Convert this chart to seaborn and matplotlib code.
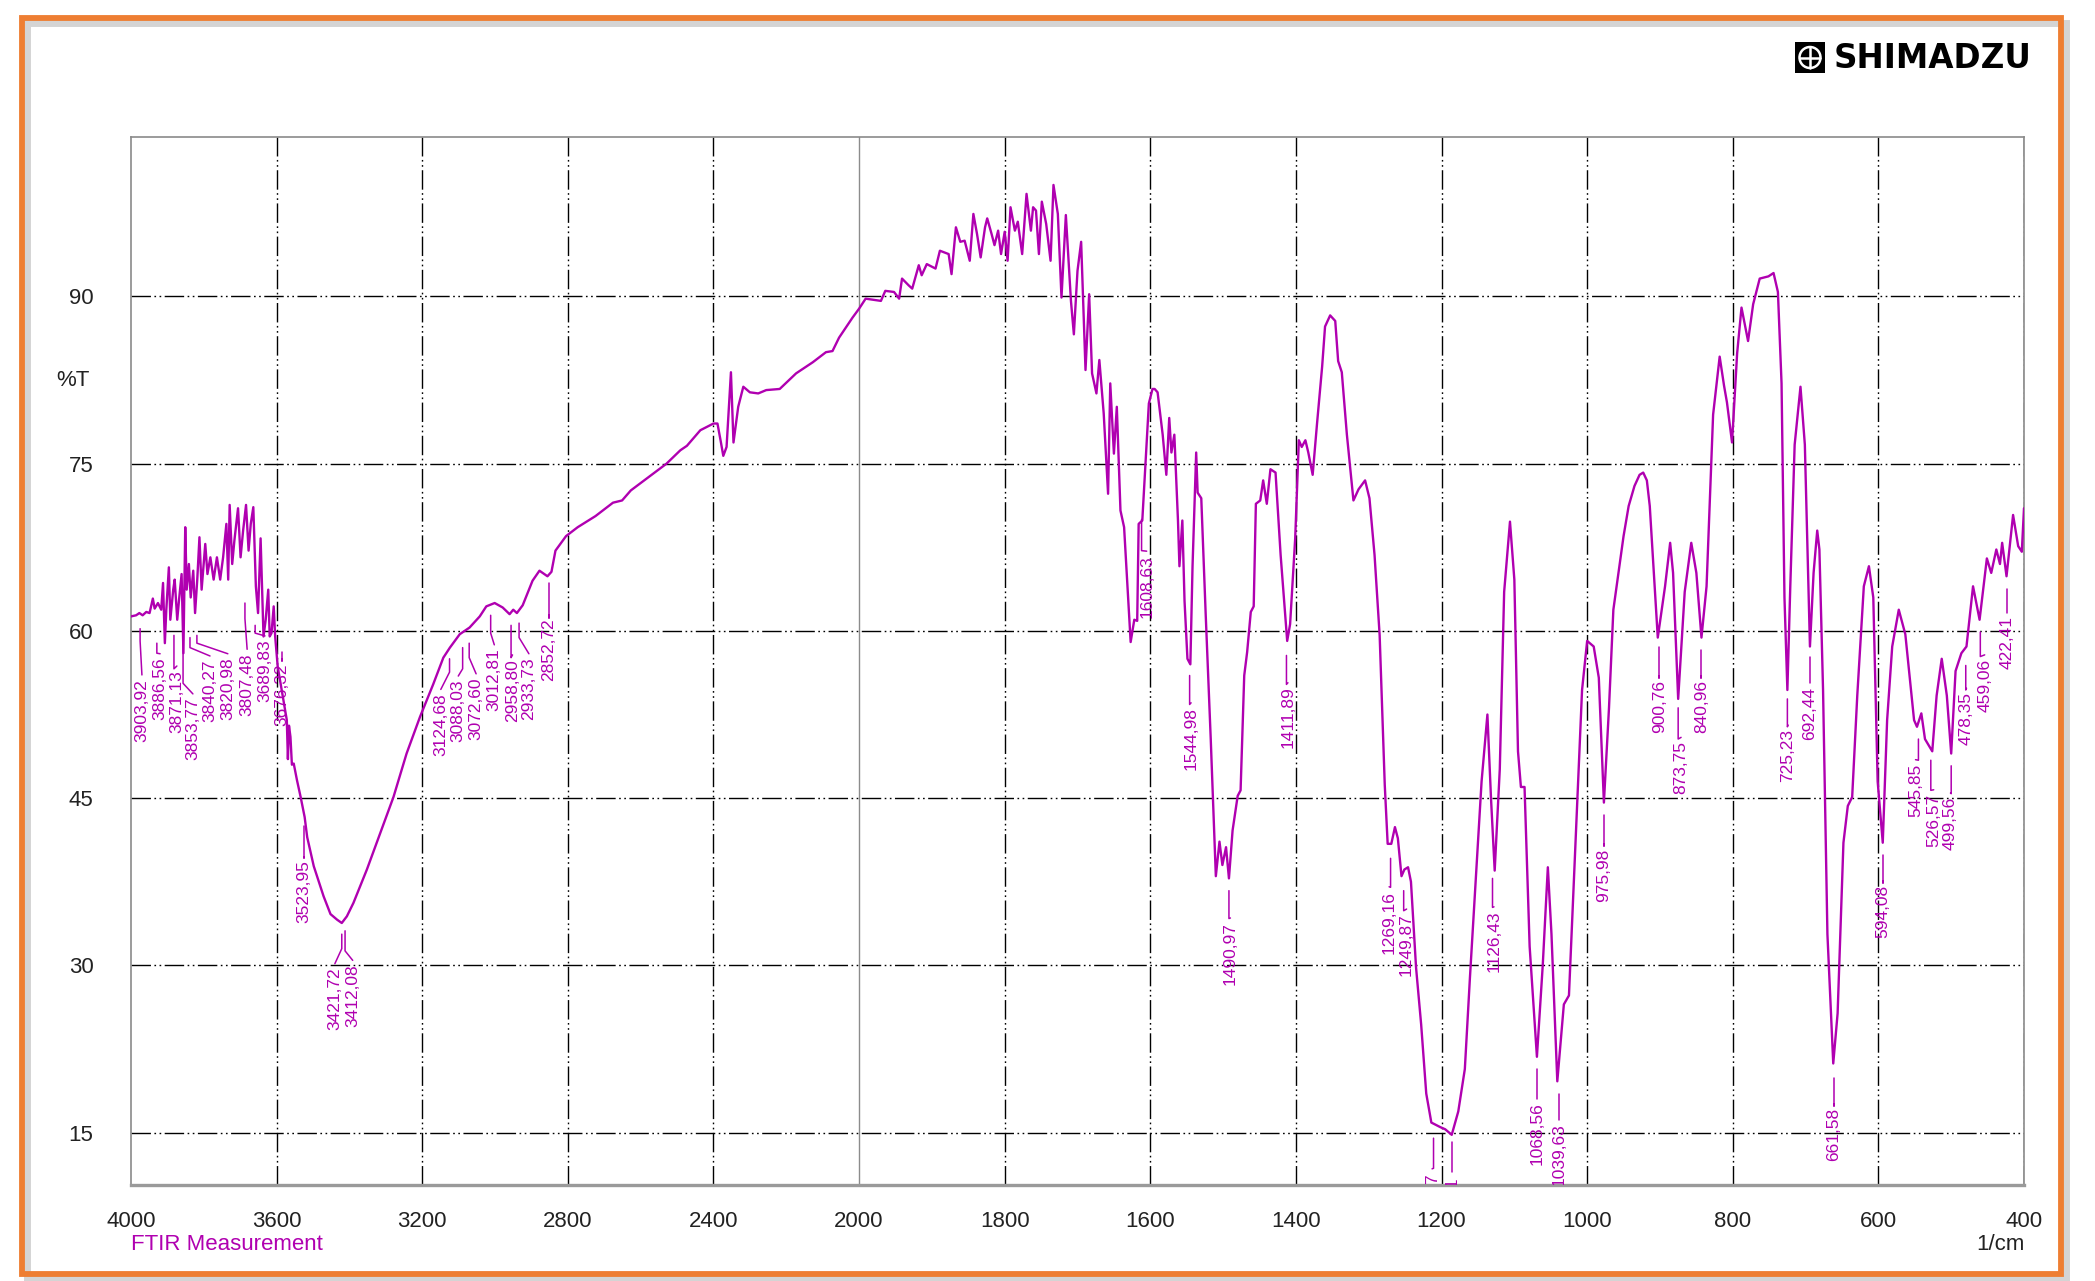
import matplotlib
matplotlib.use("Agg")
import matplotlib.pyplot as plt
import numpy as np
import pandas as pd
import seaborn as sns

from matplotlib.patches import Rectangle, Circle
from matplotlib.lines import Line2D
from matplotlib.ticker import FixedLocator, NullFormatter

# -----------------------------------------------------------------------------
#   Spectrum (1/cm, %T)
# -----------------------------------------------------------------------------
wavenumber = [
    4000, 3986, 3977, 3968, 3958, 3949, 3940, 3935, 3926, 3917, 3912, 3907,
    3903, 3896, 3892, 3884, 3880, 3873, 3868, 3861, 3856, 3851, 3847, 3841,
    3836, 3829, 3824, 3818, 3812, 3806, 3796, 3790, 3782, 3773, 3764, 3755,
    3747, 3738, 3733, 3729, 3722, 3716, 3706, 3699, 3692, 3684, 3677, 3671,
    3664, 3657, 3651, 3644, 3636, 3630, 3623, 3619, 3614, 3608, 3604, 3597,
    3572, 3569, 3566, 3562, 3558, 3553, 3544, 3534, 3523, 3516, 3498, 3471,
    3452, 3434, 3421, 3407, 3389, 3352, 3316, 3279, 3243, 3206, 3170, 3142,
    3124, 3097, 3070, 3042, 3024, 3001, 2979, 2960, 2950, 2940, 2924, 2897,
    2878, 2856, 2845, 2834, 2805, 2773, 2724, 2676, 2651, 2627, 2578, 2529,
    2491, 2473, 2436, 2400, 2389, 2380, 2373, 2364, 2352, 2345, 2332, 2318,
    2300, 2277, 2255, 2218, 2173, 2127, 2091, 2073, 2055, 2018, 2000,
    1991, 1970, 1964, 1952, 1945, 1941, 1932, 1927, 1918, 1914, 1907, 1895,
    1889, 1877, 1873, 1867, 1861, 1855, 1848, 1843, 1838, 1833, 1827, 1824,
    1818, 1814, 1809, 1805, 1800, 1796, 1792, 1786, 1782, 1776, 1770, 1764,
    1761, 1757, 1753, 1749, 1743, 1737, 1733, 1727, 1722, 1716, 1709, 1705,
    1700, 1695, 1689, 1684, 1680, 1674, 1670, 1664, 1658, 1655, 1650, 1646,
    1641, 1636, 1627, 1622, 1618, 1616, 1611, 1602, 1597,
    1594, 1590, 1583, 1578, 1574, 1571, 1567, 1562, 1560, 1556, 1553, 1549,
    1545, 1542, 1537, 1535, 1530, 1524, 1517, 1510, 1505, 1501, 1496, 1492,
    1487, 1480, 1476, 1471, 1467, 1462, 1458, 1455, 1449, 1445, 1440, 1435,
    1428, 1421, 1412, 1408, 1401, 1396, 1392, 1387, 1383, 1377, 1371, 1364,
    1360, 1353, 1346, 1342, 1337, 1330, 1321, 1314, 1305, 1299, 1292, 1285,
    1278, 1274, 1269, 1264, 1260, 1255, 1251, 1246, 1242, 1235, 1228, 1221,
    1214, 1202, 1195, 1186, 1177, 1168, 1161, 1154, 1145, 1137, 1132, 1127,
    1120, 1114, 1106, 1100, 1095, 1091, 1086, 1079, 1069, 1061, 1054, 1049,
    1041, 1032, 1025, 1016, 1007, 1000, 991, 984, 977, 970, 964, 957,
    950, 943, 935, 928, 923, 918, 914, 903, 893, 886, 882, 875,
    866, 857, 850, 843, 836, 827, 818, 812, 808, 801, 794, 788,
    779, 772, 763, 751, 744, 738, 733, 729, 725, 721, 715, 707,
    701, 694, 689, 684, 681, 676, 670, 662, 656, 648, 642, 636,
    629, 620, 613, 607, 601, 594, 588, 581, 572, 563, 551, 547,
    541, 536, 526, 520, 513, 506, 500, 494, 486, 479, 470, 461,
    451, 445, 438, 433, 430, 424, 415, 408, 403, 400,
]
transmittance = [
    61.3, 61.4, 61.6, 61.4, 61.7, 61.6, 62.9, 62.0, 62.5, 61.9, 64.3, 58.9,
    61.9, 65.7, 61.0, 63.7, 64.6, 61.0, 62.8, 65.1, 58.0, 69.3, 63.7, 66.0,
    63.0, 65.4, 61.6, 64.6, 68.4, 63.7, 67.8, 65.1, 66.6, 64.6, 66.6, 64.6,
    66.6, 69.6, 64.6, 71.3, 66.0, 68.1, 71.0, 66.6, 69.0, 71.3, 67.2, 69.6,
    71.1, 64.0, 61.6, 68.3, 59.5, 61.0, 63.7, 59.5, 59.8, 62.2, 59.5, 56.8,
    52.0, 48.5, 51.5, 50.5, 48.0, 48.1, 46.6, 45.1, 43.3, 41.5, 38.9, 36.2,
    34.6, 34.1, 33.8, 34.4, 35.6, 38.6, 41.8, 45.1, 49.0, 52.3, 55.2, 57.6,
    58.5, 59.7, 60.3, 61.3, 62.2, 62.5, 62.1, 61.5, 61.9, 61.6, 62.3, 64.5,
    65.4, 64.9, 65.3, 67.2, 68.5, 69.3, 70.3, 71.5, 71.7, 72.6, 73.8, 75.0,
    76.2, 76.6, 78.0, 78.6, 78.6, 77.0, 75.7, 76.5, 83.2, 76.9, 80.1, 81.9,
    81.4, 81.3, 81.6, 81.7, 83.1, 84.1, 85.0, 85.1, 86.3, 88.1, 88.9,
    89.8, 89.6, 90.5, 90.4, 89.8, 91.6, 91.0, 90.7, 92.8, 91.9, 92.9, 92.5,
    94.1, 93.8, 92.0, 96.2, 94.9, 95.0, 93.2, 97.4, 95.6, 93.5, 96.2, 97.0,
    95.6, 94.6, 95.9, 93.8, 95.8, 93.2, 98.0, 95.9, 96.7, 93.8, 99.2, 95.9,
    98.0, 97.7, 93.8, 98.5, 96.5, 93.2, 100.0, 97.4, 89.9, 97.3, 89.6, 86.6,
    92.3, 94.9, 83.4, 90.2, 83.1, 81.3, 84.3, 79.5, 72.3, 82.2, 75.9, 80.1,
    70.8, 69.3, 59.0, 61.0, 60.9, 69.6, 69.9, 80.4, 81.7,
    81.7, 81.4, 77.6, 74.0, 79.1, 76.0, 77.6, 69.9, 65.8, 69.9, 62.7, 57.5,
    57.0, 65.8, 76.0, 72.4, 71.9, 61.6, 50.3, 38.0, 41.1, 39.0, 40.6, 37.8,
    42.1, 45.2, 45.7, 56.0, 58.1, 61.7, 62.2, 71.4, 71.7, 73.5, 71.4, 74.5,
    74.2, 66.8, 59.1, 60.6, 68.3, 77.1, 76.5, 77.1, 76.0, 74.0, 78.6, 83.7,
    87.3, 88.3, 87.8, 84.2, 83.2, 77.6, 71.7, 72.7, 73.5, 71.9, 66.8, 59.6,
    46.2, 40.9, 40.9, 42.4, 41.4, 38.0, 38.6, 38.8, 37.5, 29.8, 24.7, 18.5,
    15.9, 15.5, 15.3, 14.8, 16.9, 20.7, 28.9, 36.6, 46.5, 52.5, 44.9, 38.5,
    47.6, 63.5, 69.8, 64.6, 49.2, 46.0, 46.0, 31.7, 21.8, 30.0, 38.8, 32.8,
    19.6, 26.5, 27.3, 41.0, 54.7, 59.1, 58.6, 55.8, 44.6, 53.1, 61.9, 65.2,
    68.5, 71.2, 73.0, 74.0, 74.2, 73.5, 71.2, 59.4, 64.0, 67.9, 65.2, 53.9,
    63.5, 67.9, 65.2, 59.4, 64.0, 79.4, 84.6, 82.0, 80.5, 76.9, 84.9, 89.0,
    86.0, 89.3, 91.6, 91.8, 92.1, 90.4, 82.2, 63.0, 54.7, 64.0, 76.7, 81.9,
    76.7, 58.6, 65.2, 69.0, 67.3, 54.7, 32.8, 21.2, 25.7, 41.0, 44.3, 45.1,
    54.2, 64.0, 65.8, 63.0, 46.5, 41.0, 52.0, 58.6, 61.9, 59.7, 52.0, 51.4,
    52.6, 50.3, 49.2, 54.2, 57.5, 54.2, 49.0, 56.4, 58.0, 58.6, 64.0, 61.0,
    66.5, 65.2, 67.3, 66.0, 67.9, 64.9, 70.4, 67.6, 67.1, 71.0,
]

# Peak labels: text, leader x, leader top, leader knee, text x, text top
peak_text = [
    "3903,92", "3886,56", "3871,13", "3853,77", "3840,27", "3820,98",
    "3807,48", "3689,83", "3676,32", "3523,95", "3421,72", "3412,08",
    "3124,68", "3088,03", "3072,60", "3012,81", "2958,80", "2933,73",
    "2852,72", "1608,63", "1544,98", "1490,97", "1411,89", "1269,16",
    "1249,87", "1211,87", "1187,01", "1126,43", "1068,56", "1039,63",
    "975,98", "900,76", "873,75", "840,96", "725,23", "692,44", "661,58",
    "594,08", "545,85", "526,57", "499,56", "478,35", "459,06", "422,41",
]
lead_x = [
    3975, 3929, 3882, 3857, 3838, 3819, 3687, 3659, 3585, 3525, 3421, 3412,
    3125, 3089, 3071, 3012, 2956, 2934, 2852, 1612, 1546, 1492, 1413, 1270,
    1252, 1211, 1185, 1130, 1069, 1039, 977, 901, 875, 843, 725, 694, 661,
    594, 545, 528, 500, 480, 460, 423,
]
lead_top = [
    60.2, 58.9, 59.6, 59.8, 59.4, 59.6, 62.5, 60.5, 58.1, 42.5, 32.8, 33.1,
    57.5, 58.5, 58.9, 61.4, 60.5, 60.7, 64.3, 70.0, 56.0, 36.7, 57.8, 39.6,
    36.7, 14.5, 14.2, 37.8, 20.7, 18.5, 43.5, 58.6, 53.1, 58.3, 53.9, 57.7,
    19.9, 39.9, 50.3, 48.4, 47.9, 56.9, 59.9, 63.8,
]
lead_knee = [
    59.1, 58.0, 56.6, 55.3, 58.5, 58.9, 61.1, 59.8, 57.3, 39.6, 31.5, 31.3,
    56.3, 56.6, 57.6, 59.8, 57.6, 59.4, 61.2, 67.2, 53.4, 34.2, 55.2, 37.0,
    34.9, 11.8, 11.6, 35.2, 18.0, 16.1, 40.7, 55.8, 50.3, 55.8, 51.4, 55.3,
    17.4, 37.4, 48.4, 45.7, 45.4, 54.7, 57.7, 61.6,
]
text_x = [
    3970, 3920, 3874, 3830, 3783, 3734, 3681, 3632, 3585, 3525, 3440, 3391,
    3149, 3101, 3052, 3002, 2952, 2907, 2852, 1605, 1544, 1490, 1411, 1272,
    1248, 1213, 1185, 1128, 1069, 1039, 977, 901, 871, 843, 724, 694, 661,
    594, 549, 524, 501, 479, 454, 423,
]
text_top = [
    55.7, 57.6, 56.5, 54.0, 57.4, 57.6, 58.0, 59.2, 57.1, 39.4, 29.8, 30.1,
    54.4, 55.6, 55.8, 58.4, 57.5, 57.6, 61.1, 66.8, 53.2, 33.9, 55.0, 36.7,
    34.7, 11.4, 11.1, 34.9, 17.7, 15.8, 40.5, 55.6, 50.1, 55.6, 51.2, 55.0,
    17.2, 37.2, 48.1, 45.4, 45.1, 54.5, 57.5, 61.3,
]

x_major = [4000, 3600, 3200, 2800, 2400, 2000, 1800, 1600, 1400, 1200,
           1000, 800, 600, 400]
y_major = [15, 30, 45, 60, 75, 90]

MAGENTA = "#B000B0"
ORANGE = "#EE7E32"
W, H = 2095, 1281

df = pd.DataFrame({"wavenumber": wavenumber, "T": transmittance})


# Shimadzu style x axis: 4000-2000 compressed by a factor 2
def fwd(w):
    w = np.asarray(w, dtype=float)
    return np.where(w > 2000, 2000 + (w - 2000) / 2, w)


def inv(u):
    u = np.asarray(u, dtype=float)
    return np.where(u > 2000, 2000 + (u - 2000) * 2, u)


# -----------------------------------------------------------------------------
#         Plot
# -----------------------------------------------------------------------------
sns.set_style("white")
plt.rcParams["font.family"] = ["Liberation Sans", "DejaVu Sans"]

fig = plt.figure(figsize=(W / 100, H / 100), dpi=100)
ax = fig.add_axes([131 / W, (H - 1185) / H, 1893 / W, 1048 / H])

sns.lineplot(data=df, x="wavenumber", y="T", sort=False, estimator=None,
             color=MAGENTA, lw=1.7, ax=ax, zorder=5)

ax.set_xscale("function", functions=(fwd, inv))
ax.set_xlim(4000, 400)
ax.set_ylim(10.3, 104.3)

x_minor = list(range(3960, 2000, -40)) + list(range(1980, 400, -20))
ax.xaxis.set_major_locator(FixedLocator(x_major))
ax.xaxis.set_minor_locator(FixedLocator(x_minor))
ax.xaxis.set_minor_formatter(NullFormatter())
ax.set_xticklabels([str(t) for t in x_major])
ax.yaxis.set_major_locator(FixedLocator(y_major))
ax.yaxis.set_minor_locator(FixedLocator(np.arange(10.5, 104.4, 1.5)))

ax.tick_params(axis="x", which="major", direction="out", length=9, width=1,
               color="#8a8a8a", labelsize=16, pad=10, labelcolor="#222222")
ax.tick_params(axis="x", which="minor", direction="out", length=7, width=1,
               color="#8a8a8a")
ax.tick_params(axis="y", which="major", direction="out", length=22, width=1,
               color="#8a8a8a", labelsize=16, pad=5, labelcolor="#222222")
ax.tick_params(axis="y", which="minor", direction="out", length=12, width=1,
               color="#8a8a8a")
ax.set_xlabel("")
ax.set_ylabel("")

dashdotdot = (0, (14, 2.5, 1.2, 2.5, 1.2, 2.5))
for t in x_major[1:]:
    if t == 2000:
        ax.axvline(t, color="#8c8c8c", lw=1.0, zorder=1)
    else:
        ax.axvline(t, color="black", lw=1.0, ls=dashdotdot, zorder=1)
for t in y_major:
    ax.axhline(t, color="black", lw=1.0, ls=dashdotdot, zorder=1)

for side in ["left", "top", "right"]:
    ax.spines[side].set_color("#8a8a8a")
    ax.spines[side].set_linewidth(1.2)
ax.spines["bottom"].set_color("#9a9a9a")
ax.spines["bottom"].set_linewidth(2.4)

# peak labels with leader lines
for s, lx, l0, l1, tx, t0 in zip(peak_text, lead_x, lead_top, lead_knee,
                                 text_x, text_top):
    ax.plot([lx, lx, tx], [l0, l1, t0 + 0.35], color=MAGENTA, lw=1.1,
            zorder=4, clip_on=True)
    ax.text(tx, t0, s, rotation=90, ha="center", va="top", fontsize=12.5,
            color=MAGENTA, clip_on=True, zorder=4)

# page furniture
fig.text(73 / W, 1 - 381 / H, "%T", ha="center", va="center", fontsize=16,
         color="#222222")
fig.text(131 / W, 1 - 1245 / H, "FTIR Measurement", ha="left", va="center",
         fontsize=16, color=MAGENTA)
fig.text(2025 / W, 1 - 1245 / H, "1/cm", ha="right", va="center",
         fontsize=16, color="#222222")


def inch(x, y):
    return x / 100, (H - y) / 100


tr = fig.dpi_scale_trans
fig.add_artist(Rectangle(inch(1795, 73), 0.30, 0.31, transform=tr,
                         facecolor="black", edgecolor="none"))
fig.add_artist(Circle(inch(1810, 57.5), 0.105, transform=tr, fill=False,
                      edgecolor="white", lw=1.8))
x0, y0 = inch(1810, 57.5)
fig.add_artist(Line2D([x0 - 0.1, x0 + 0.1], [y0, y0], transform=tr,
                      color="white", lw=1.8))
fig.add_artist(Line2D([x0, x0], [y0 - 0.1, y0 + 0.1], transform=tr,
                      color="white", lw=1.8))
fig.text(1834 / W, 1 - 58 / H, "SHIMADZU", ha="left", va="center",
         fontsize=23.5, fontweight="bold", family="DejaVu Sans",
         color="black")

# orange frame with a soft shadow
fig.add_artist(Rectangle(inch(27, 1279), 20.39, 12.56, transform=tr,
                         fill=False, edgecolor="#d4d4d4", lw=5, zorder=0))
fig.add_artist(Rectangle(inch(22, 1274), 20.39, 12.56, transform=tr,
                         fill=False, edgecolor=ORANGE, lw=4.2, zorder=1))

fig.savefig("out.png", dpi=100, facecolor="white")
